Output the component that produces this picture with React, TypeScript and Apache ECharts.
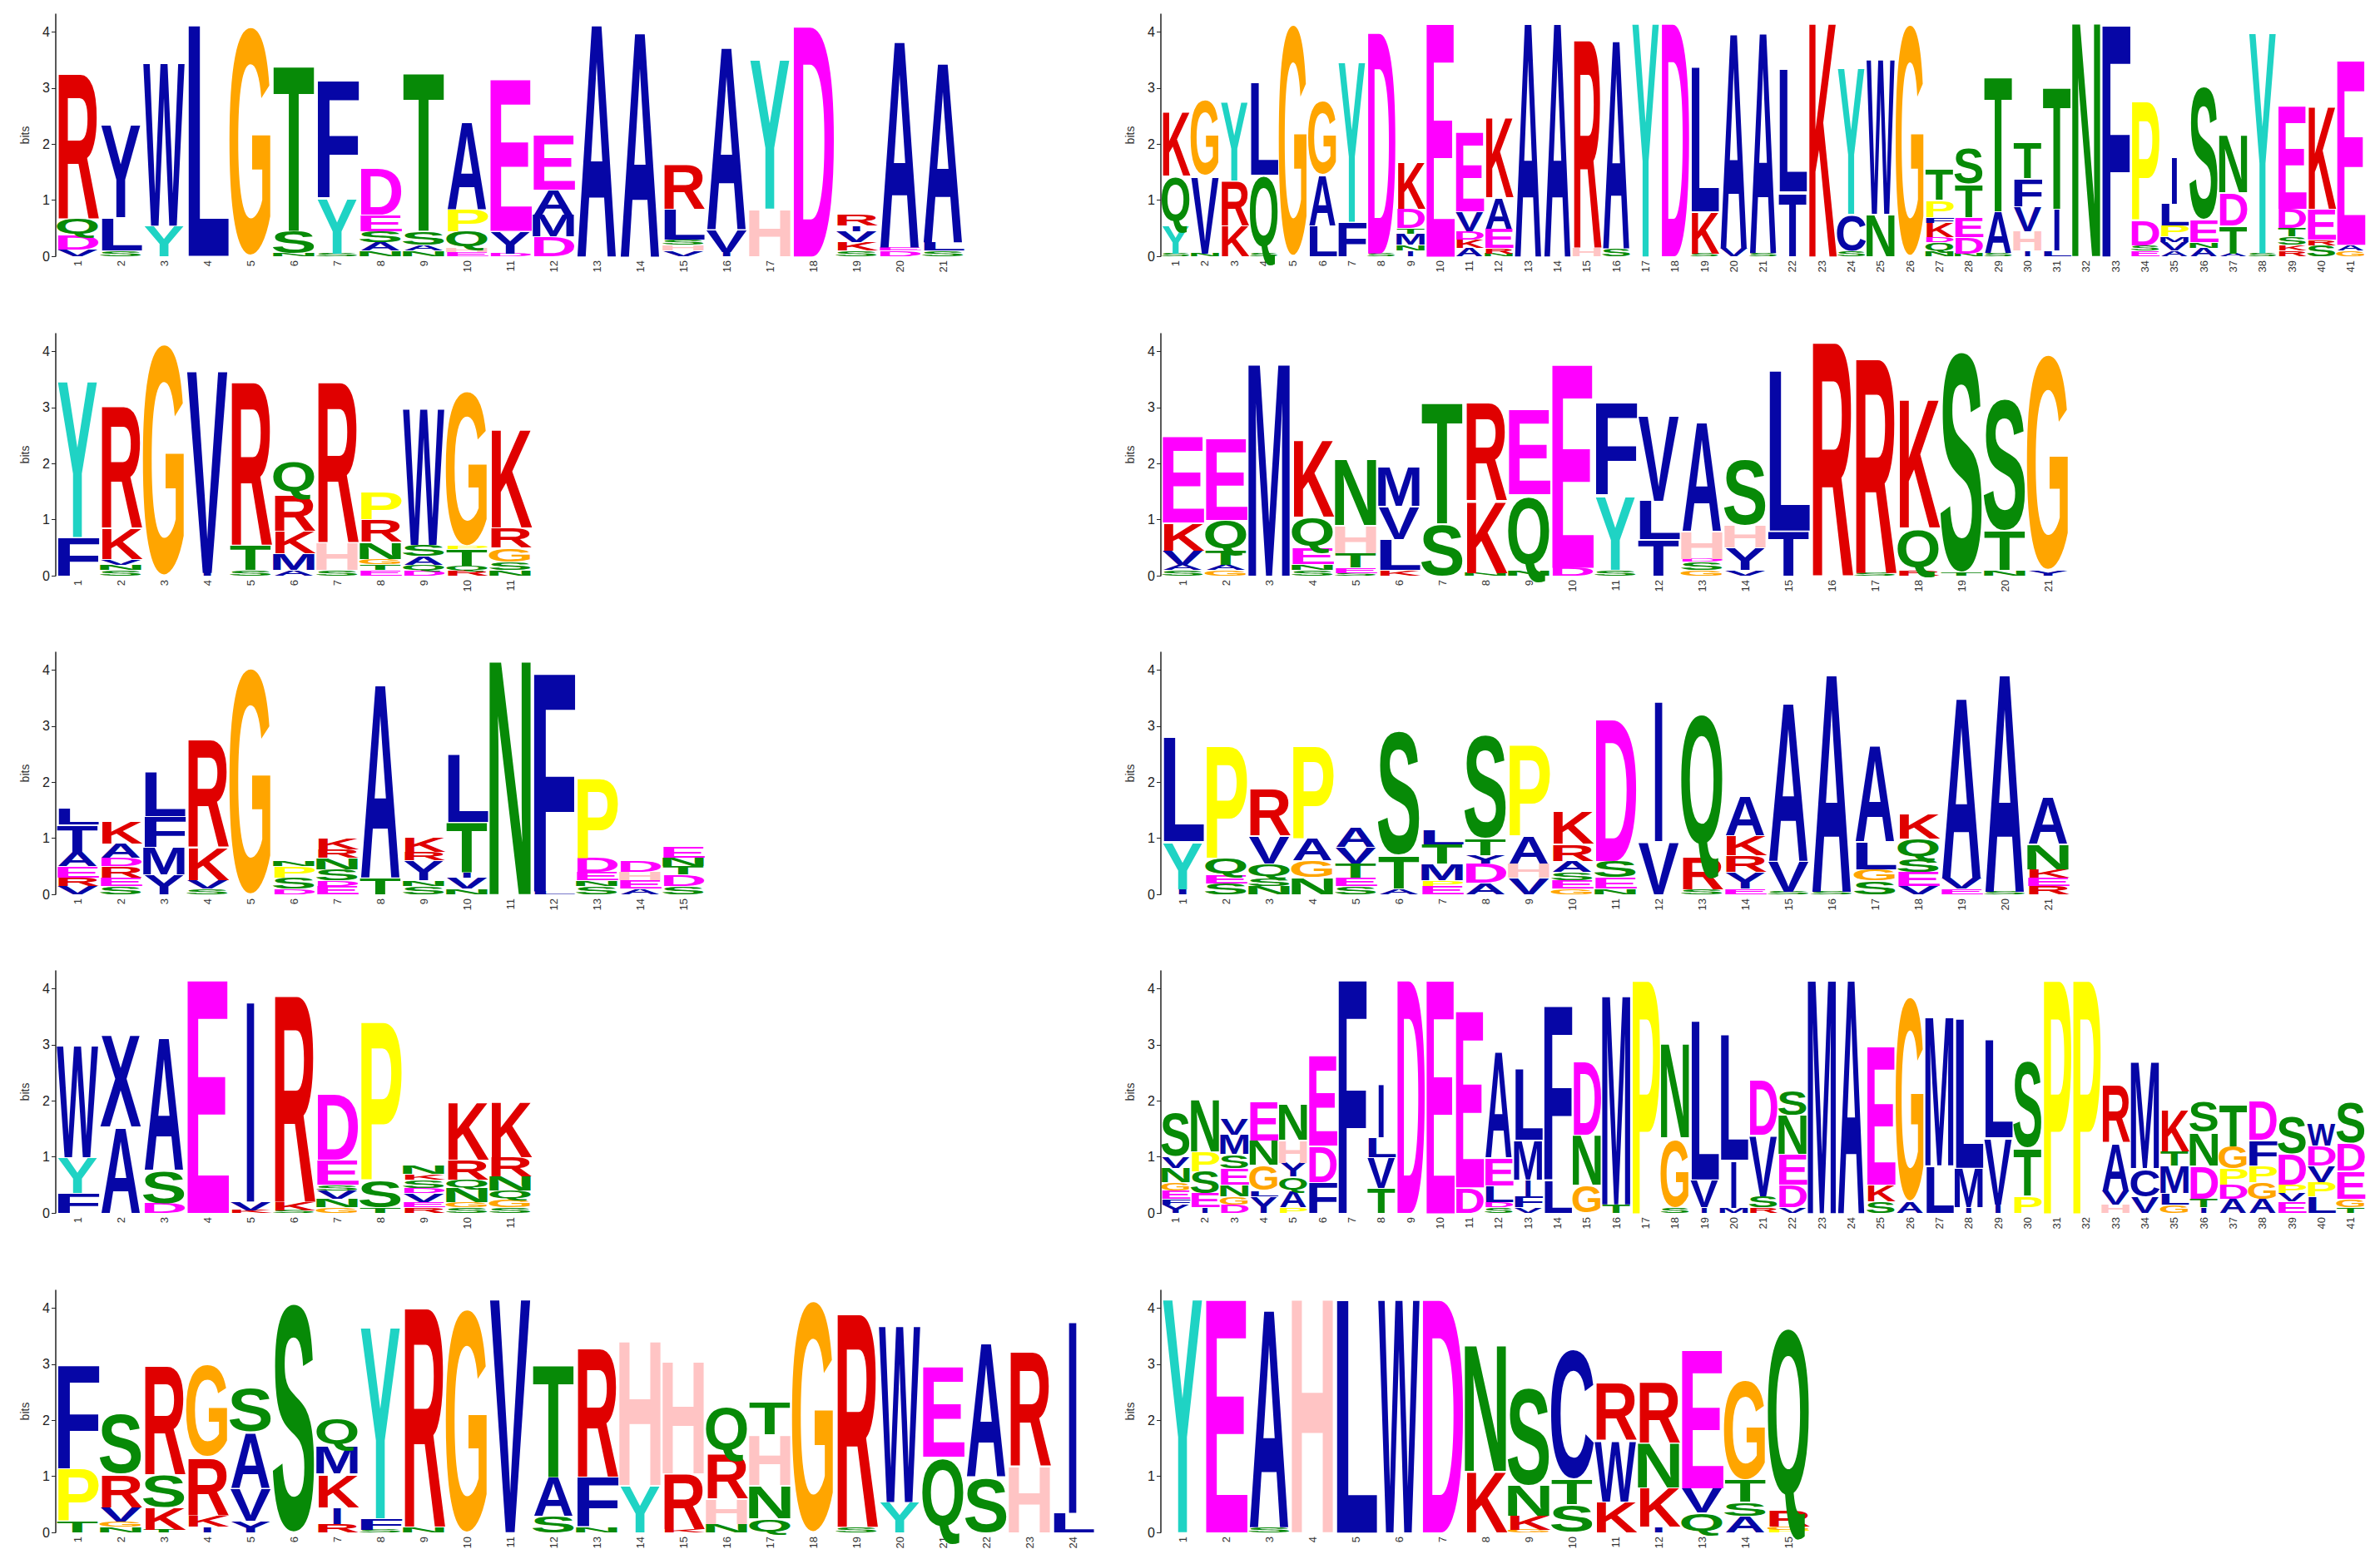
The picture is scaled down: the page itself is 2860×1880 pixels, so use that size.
import React, { useEffect, useRef } from "react";
import * as echarts from "echarts";

type Entry = [string, number, string?];
type Stack = Entry[];

// Each position: letters bottom -> top, [residue, bits, optional colour-class override]
const logo1: Stack[] = [
  [["V", 0.12], ["D", 0.25], ["Q", 0.3], ["R", 2.67]],
  [["S", 0.1], ["L", 0.6], ["Y", 1.7, "b"]],
  [["Y", 0.55], ["W", 3.0]],
  [["L", 4.26]],
  [["G", 4.25]],
  [["N", 0.06], ["S", 0.4], ["T", 3.03]],
  [["S", 0.05], ["Y", 1.0], ["F", 2.15]],
  [["N", 0.1], ["A", 0.15], ["S", 0.2], ["E", 0.3], ["D", 0.85]],
  [["N", 0.1], ["A", 0.1], ["S", 0.25], ["T", 2.9]],
  [["E", 0.08], ["H", 0.07], ["Q", 0.3], ["P", 0.4], ["A", 1.6]],
  [["D", 0.05], ["Y", 0.4, "b"], ["E", 2.8]],
  [["D", 0.35], ["M", 0.4], ["A", 0.45], ["E", 1.0]],
  [["A", 4.27]],
  [["A", 4.13]],
  [["V", 0.1], ["H", 0.1], ["S", 0.1], ["L", 0.55], ["R", 0.8]],
  [["I", 0.08], ["V", 0.4], ["A", 3.35]],
  [["H", 0.85], ["Y", 2.75]],
  [["D", 4.25]],
  [["S", 0.1], ["K", 0.15], ["V", 0.2], ["I", 0.1], ["R", 0.2]],
  [["D", 0.1], ["E", 0.05], ["A", 3.8]],
  [["S", 0.1], ["L", 0.15], ["A", 3.3]],
];

const logo2: Stack[] = [
  [["S", 0.05], ["Y", 0.52], ["Q", 0.87], ["K", 1.16]],
  [["N", 0.05], ["V", 1.4], ["G", 1.4]],
  [["K", 0.55], ["R", 0.8], ["Y", 1.45]],
  [["S", 0.05], ["Q", 1.4], ["L", 1.7]],
  [["G", 4.3]],
  [["L", 0.55], ["A", 0.9], ["G", 1.35]],
  [["F", 0.62], ["Y", 2.94]],
  [["S", 0.05], ["D", 4.08]],
  [["I", 0.1], ["N", 0.1], ["M", 0.2], ["T", 0.1], ["D", 0.35], ["K", 0.85]],
  [["E", 4.3]],
  [["A", 0.15], ["K", 0.15], ["D", 0.15], ["V", 0.35], ["E", 1.45]],
  [["N", 0.05], ["R", 0.1], ["E", 0.35], ["A", 0.55], ["K", 1.45]],
  [["A", 4.3]],
  [["A", 4.3]],
  [["H", 0.15], ["R", 3.83]],
  [["S", 0.15], ["A", 3.83]],
  [["Y", 4.3]],
  [["D", 4.3]],
  [["S", 0.05], ["K", 0.75], ["L", 2.66]],
  [["V", 0.15], ["A", 3.95]],
  [["S", 0.05], ["A", 4.06]],
  [["T", 1.15, "b"], ["L", 2.25]],
  [["K", 4.3]],
  [["S", 0.1], ["C", 0.65], ["Y", 2.68]],
  [["N", 0.75], ["W", 2.85]],
  [["G", 4.3]],
  [["N", 0.1], ["Q", 0.15], ["D", 0.1], ["K", 0.25], ["F", 0.1], ["P", 0.3], ["T", 0.56]],
  [["N", 0.05], ["D", 0.3], ["E", 0.35], ["T", 0.6], ["S", 0.66]],
  [["S", 0.05], ["A", 0.75], ["T", 2.47]],
  [["I", 0.1], ["H", 0.35], ["V", 0.45], ["F", 0.5], ["T", 0.65]],
  [["L", 0.1], ["I", 0.75], ["T", 2.22]],
  [["N", 4.3]],
  [["F", 4.27]],
  [["E", 0.1], ["S", 0.1], ["D", 0.45], ["P", 2.18]],
  [["A", 0.1], ["V", 0.15], ["M", 0.1], ["P", 0.2], ["L", 0.4], ["I", 0.85]],
  [["A", 0.15], ["N", 0.1], ["E", 0.4], ["S", 2.47]],
  [["A", 0.05], ["T", 0.5], ["D", 0.6], ["N", 1.05]],
  [["S", 0.05], ["Y", 4.07]],
  [["R", 0.1], ["K", 0.1], ["S", 0.15], ["T", 0.15], ["D", 0.35], ["E", 1.9]],
  [["S", 0.2], ["R", 0.1], ["E", 0.55], ["K", 1.88]],
  [["G", 0.1], ["A", 0.1], ["E", 3.4]],
];

const logo3: Stack[] = [
  [["F", 0.69], ["Y", 2.87]],
  [["S", 0.1], ["N", 0.1], ["V", 0.1], ["K", 0.55], ["R", 2.24]],
  [["G", 4.3]],
  [["I", 0.05], ["V", 3.73]],
  [["S", 0.1], ["T", 0.45], ["R", 3.0]],
  [["A", 0.1], ["M", 0.3], ["K", 0.4], ["R", 0.65], ["Q", 0.6]],
  [["S", 0.1], ["H", 0.5], ["R", 2.95]],
  [["E", 0.1], ["T", 0.1], ["G", 0.1], ["N", 0.3], ["R", 0.4], ["P", 0.5]],
  [["D", 0.1], ["Q", 0.1], ["A", 0.15], ["S", 0.2], ["W", 2.5]],
  [["R", 0.1], ["Q", 0.08], ["T", 0.3], ["P", 0.05], ["G", 2.87]],
  [["N", 0.1], ["S", 0.15], ["G", 0.25], ["R", 0.35], ["K", 1.8]],
];

const logo4: Stack[] = [
  [["S", 0.1], ["A", 0.1], ["V", 0.25], ["K", 0.5], ["E", 1.57]],
  [["G", 0.1], ["A", 0.1], ["T", 0.25], ["Q", 0.55], ["E", 1.5]],
  [["M", 3.9]],
  [["S", 0.1], ["N", 0.1], ["E", 0.3], ["Q", 0.55], ["K", 1.4]],
  [["S", 0.05], ["E", 0.1], ["T", 0.25], ["H", 0.5], ["N", 1.2]],
  [["K", 0.1], ["L", 0.55], ["V", 0.6], ["M", 0.7]],
  [["S", 0.95], ["T", 2.2]],
  [["N", 0.05], ["K", 1.3], ["R", 1.8]],
  [["N", 0.1], ["Q", 1.35], ["E", 1.55]],
  [["D", 0.15], ["E", 3.75]],
  [["S", 0.1], ["Y", 1.35], ["F", 1.68]],
  [["T", 0.65, "b"], ["L", 0.7], ["V", 1.55]],
  [["G", 0.1], ["S", 0.15], ["D", 0.05], ["H", 0.5], ["A", 2.0]],
  [["V", 0.1], ["Y", 0.4, "b"], ["H", 0.4], ["S", 1.2]],
  [["T", 0.8, "b"], ["L", 2.95]],
  [["R", 4.3]],
  [["S", 0.05], ["R", 3.95]],
  [["R", 0.1], ["Q", 0.75], ["K", 2.35]],
  [["T", 0.05], ["S", 4.1]],
  [["N", 0.1], ["T", 0.7], ["S", 2.45]],
  [["Y", 0.1, "b"], ["G", 4.0]],
];

const logo5: Stack[] = [
  [["V", 0.15], ["R", 0.15], ["E", 0.2], ["A", 0.25], ["T", 0.5, "b"], ["L", 0.3]],
  [["S", 0.15], ["E", 0.15], ["R", 0.2], ["D", 0.15], ["A", 0.25], ["K", 0.4]],
  [["Y", 0.35, "b"], ["M", 0.5], ["F", 0.55], ["L", 0.8]],
  [["S", 0.1], ["V", 0.15], ["K", 0.6], ["R", 1.97]],
  [["G", 4.2]],
  [["D", 0.1], ["S", 0.2], ["P", 0.2], ["N", 0.1]],
  [["E", 0.15], ["D", 0.1], ["S", 0.2], ["N", 0.2], ["R", 0.15], ["K", 0.2]],
  [["T", 0.3], ["A", 3.55]],
  [["S", 0.15], ["N", 0.1], ["Y", 0.35, "b"], ["R", 0.15], ["K", 0.25]],
  [["N", 0.1], ["V", 0.2], ["I", 0.1], ["T", 0.9], ["L", 1.25]],
  [["N", 4.3]],
  [["L", 0.05], ["F", 4.02]],
  [["S", 0.15], ["N", 0.1], ["E", 0.15], ["D", 0.25], ["P", 1.45]],
  [["A", 0.1], ["E", 0.15], ["H", 0.15], ["D", 0.2]],
  [["S", 0.15], ["D", 0.2], ["T", 0.15], ["N", 0.15], ["E", 0.2]],
];

const logo6: Stack[] = [
  [["I", 0.1], ["Y", 0.85], ["L", 1.92]],
  [["S", 0.2], ["E", 0.15], ["Q", 0.3], ["P", 2.05]],
  [["N", 0.15], ["S", 0.15], ["Q", 0.25], ["V", 0.5], ["R", 0.85]],
  [["N", 0.3], ["G", 0.3], ["A", 0.4], ["P", 1.7]],
  [["S", 0.15], ["E", 0.15], ["T", 0.25], ["V", 0.3], ["A", 0.35]],
  [["A", 0.1], ["T", 0.6], ["S", 2.3]],
  [["E", 0.15], ["P", 0.1], ["M", 0.3], ["T", 0.35], ["L", 0.25]],
  [["A", 0.2], ["D", 0.35], ["Y", 0.15, "b"], ["T", 0.3], ["S", 1.9]],
  [["V", 0.3], ["H", 0.25], ["A", 0.5], ["P", 1.65]],
  [["G", 0.1], ["E", 0.15], ["S", 0.15], ["A", 0.2], ["R", 0.3], ["K", 0.6]],
  [["N", 0.1], ["E", 0.2], ["S", 0.3], ["D", 2.6]],
  [["V", 0.95], ["I", 2.56]],
  [["S", 0.1], ["R", 0.6], ["Q", 2.6]],
  [["E", 0.1], ["Y", 0.3, "b"], ["R", 0.3], ["K", 0.35], ["A", 0.7]],
  [["S", 0.05], ["V", 0.55], ["A", 2.9]],
  [["S", 0.05], ["A", 4.0]],
  [["S", 0.25], ["G", 0.2], ["L", 0.5], ["A", 1.75]],
  [["V", 0.15], ["E", 0.25], ["S", 0.25], ["Q", 0.35], ["K", 0.45]],
  [["E", 0.1], ["V", 0.2], ["A", 3.3]],
  [["S", 0.05], ["A", 4.0]],
  [["R", 0.15], ["E", 0.15], ["K", 0.15], ["N", 0.45], ["A", 0.85]],
];

const logo7: Stack[] = [
  [["F", 0.35], ["Y", 0.65], ["W", 2.05]],
  [["A", 1.55], ["X", 1.68]],
  [["D", 0.17], ["S", 0.6], ["A", 2.43]],
  [["E", 4.3]],
  [["K", 0.05], ["V", 0.15], ["I", 3.68]],
  [["S", 0.05], ["K", 0.15], ["R", 3.8]],
  [["G", 0.1], ["N", 0.15], ["V", 0.15], ["S", 0.1], ["E", 0.45], ["D", 1.2]],
  [["T", 0.1], ["S", 0.5], ["P", 2.9]],
  [["R", 0.1], ["E", 0.1], ["V", 0.15], ["D", 0.1], ["S", 0.15], ["K", 0.1], ["N", 0.15]],
  [["S", 0.1], ["G", 0.1], ["N", 0.25], ["Q", 0.15], ["R", 0.35], ["K", 1.05]],
  [["S", 0.1], ["G", 0.15], ["Q", 0.15], ["N", 0.25], ["R", 0.35], ["K", 1.0]],
];

const logo8: Stack[] = [
  [["Y", 0.15, "b"], ["F", 0.1], ["E", 0.15], ["G", 0.15], ["N", 0.25], ["V", 0.2], ["S", 0.8]],
  [["I", 0.1], ["E", 0.25], ["S", 0.4], ["P", 0.35], ["N", 0.95]],
  [["D", 0.15], ["G", 0.15], ["N", 0.2], ["E", 0.3], ["S", 0.25], ["M", 0.35], ["V", 0.3]],
  [["Y", 0.3, "b"], ["L", 0.1], ["G", 0.45], ["N", 0.45], ["E", 0.7]],
  [["P", 0.1], ["A", 0.3], ["Q", 0.25], ["Y", 0.25, "b"], ["H", 0.4], ["N", 0.65]],
  [["F", 0.55], ["D", 0.65], ["E", 1.66]],
  [["F", 4.3]],
  [["T", 0.45], ["V", 0.55], ["L", 0.35], ["I", 0.97]],
  [["D", 4.3]],
  [["E", 4.3]],
  [["D", 0.45], ["E", 3.25]],
  [["S", 0.1], ["D", 0.1], ["L", 0.3], ["E", 0.5], ["A", 1.94]],
  [["V", 0.1], ["F", 0.2], ["I", 0.3], ["M", 0.7], ["L", 1.3]],
  [["L", 0.6], ["F", 3.2]],
  [["G", 0.5], ["N", 0.9], ["D", 1.34]],
  [["T", 0.15], ["M", 3.85]],
  [["P", 4.3]],
  [["S", 0.1], ["G", 1.25], ["N", 1.71]],
  [["I", 0.1], ["V", 0.5], ["L", 2.93]],
  [["M", 0.1], ["I", 0.85], ["L", 2.31]],
  [["R", 0.1], ["S", 0.2], ["V", 1.1], ["D", 1.0]],
  [["V", 0.1], ["D", 0.4], ["E", 0.55], ["N", 0.7], ["S", 0.45]],
  [["M", 4.3]],
  [["A", 4.3]],
  [["S", 0.2], ["K", 0.3], ["E", 2.55]],
  [["A", 0.2], ["G", 3.8]],
  [["L", 0.85], ["M", 2.73]],
  [["I", 0.1], ["M", 0.7], ["L", 2.75]],
  [["I", 0.15], ["V", 1.2], ["L", 1.8]],
  [["P", 0.3], ["T", 0.85], ["S", 1.6]],
  [["P", 4.3]],
  [["P", 4.3]],
  [["H", 0.15], ["V", 0.25], ["A", 0.85], ["R", 1.05]],
  [["V", 0.3], ["C", 0.5], ["M", 1.95]],
  [["G", 0.15], ["L", 0.2], ["M", 0.5], ["T", 0.25], ["K", 0.75]],
  [["I", 0.1], ["T", 0.15], ["D", 0.6], ["N", 0.6], ["S", 0.55]],
  [["A", 0.25], ["D", 0.25], ["P", 0.3], ["G", 0.4], ["T", 0.75]],
  [["A", 0.25], ["G", 0.3], ["P", 0.3], ["F", 0.45], ["D", 0.7]],
  [["E", 0.2], ["V", 0.15], ["P", 0.15], ["D", 0.55], ["S", 0.7]],
  [["L", 0.3], ["P", 0.25], ["V", 0.3], ["D", 0.35], ["W", 0.4]],
  [["T", 0.1], ["G", 0.15], ["E", 0.5], ["D", 0.5], ["S", 0.75]],
];

const logo9: Stack[] = [
  [["T", 0.2], ["P", 0.95], ["F", 1.9]],
  [["N", 0.1], ["G", 0.1], ["V", 0.25], ["R", 0.6], ["S", 1.1]],
  [["T", 0.05], ["K", 0.4], ["S", 0.6], ["R", 2.0]],
  [["I", 0.1], ["K", 0.2], ["R", 1.05], ["G", 1.7]],
  [["Y", 0.2, "b"], ["V", 0.6], ["A", 1.0], ["S", 0.8]],
  [["S", 4.25]],
  [["R", 0.15], ["I", 0.3], ["K", 0.6], ["M", 0.5], ["Q", 0.5]],
  [["S", 0.05], ["F", 0.2], ["Y", 3.52]],
  [["N", 0.1], ["R", 4.03]],
  [["G", 4.15]],
  [["V", 4.3]],
  [["S", 0.3], ["A", 0.7], ["T", 2.05]],
  [["N", 0.1], ["F", 0.9], ["R", 2.37]],
  [["Y", 0.85], ["H", 2.65]],
  [["K", 0.05], ["R", 1.0], ["H", 2.05]],
  [["N", 0.15], ["H", 0.45], ["R", 0.8], ["Q", 0.85]],
  [["Q", 0.25], ["N", 0.6], ["H", 0.9], ["T", 0.6]],
  [["G", 4.3]],
  [["S", 0.1], ["R", 3.93]],
  [["Y", 0.55], ["W", 3.25]],
  [["Q", 1.35], ["E", 1.65]],
  [["S", 1.0], ["A", 2.45]],
  [["H", 1.2], ["R", 2.1]],
  [["L", 0.35], ["I", 3.52]],
];

const logo10: Stack[] = [
  [["Y", 4.3]],
  [["E", 4.3]],
  [["S", 0.1], ["A", 4.0]],
  [["H", 4.3]],
  [["L", 4.3]],
  [["W", 4.3]],
  [["D", 4.3]],
  [["K", 1.1], ["N", 2.3]],
  [["G", 0.05], ["K", 0.25], ["N", 0.55], ["S", 1.8]],
  [["S", 0.5], ["T", 0.45], ["C", 2.4]],
  [["K", 0.55], ["W", 1.1], ["R", 1.05]],
  [["I", 0.1], ["K", 0.7], ["N", 0.8], ["R", 1.1]],
  [["Q", 0.35], ["V", 0.45], ["E", 2.55]],
  [["A", 0.3], ["S", 0.25], ["T", 0.4], ["G", 1.85]],
  [["P", 0.05], ["G", 0.05], ["R", 0.3], ["Q", 3.35]],
];

const yTicks = [0, 1, 2, 3, 4];
const Y_MAX = 4.32;

const LOGOS: Stack[][] = [logo1, logo2, logo3, logo4, logo5, logo6, logo7, logo8, logo9, logo10];

// layout (px) : column left edge, baseline y, column unit width
const ROW_BASE = [308, 692, 1075, 1458, 1842];
const COL_LEFT = [67, 1395];
const PLOT_H = 291;

const COLORS: Record<string, string> = {
  b: "#0606a6",
  r: "#e00000",
  m: "#ff00ff",
  o: "#ffa500",
  c: "#1fd3c4",
  g: "#078a07",
  p: "#ffc4c4",
  y: "#ffff00",
};
const LETTER_CLASS: Record<string, string> = {
  A: "b", C: "b", F: "b", I: "b", L: "b", M: "b", V: "b", W: "b", X: "b",
  R: "r", K: "r",
  D: "m", E: "m",
  G: "o",
  Y: "c",
  H: "p",
  S: "g", T: "g", N: "g", Q: "g",
  P: "y",
};
// ink width of each glyph in Liberation Sans Bold (em units)
const INK: Record<string, number> = {
  A: 0.72, C: 0.63, D: 0.63, E: 0.56, F: 0.51, G: 0.68, H: 0.59, I: 0.82, K: 0.66, L: 0.53,
  M: 0.7, N: 0.59, P: 0.58, Q: 0.7, R: 0.65, S: 0.6, T: 0.6, V: 0.67, W: 0.94, X: 0.66, Y: 0.67,
};
// glyph ink height (em) and vertical centre correction (fraction of box height)
const GLYPH_H: Record<string, number> = { C: 0.745, G: 0.745, S: 0.745, Q: 0.8 };
const GLYPH_DY: Record<string, number> = { Q: -0.02 };
const ALPHABET = "ACDEFGHIKLMNPQRSTVWXY";
const CLASS_KEYS = ["", "b"];
const FONT_PX = 100;
const FILL = 0.95;

function renderItem(_params: any, api: any) {
  const ci = api.value(0);
  const y0 = api.value(1);
  const y1 = api.value(2);
  const li = api.value(3);
  const ki = api.value(4);
  const letter = ALPHABET[li];
  const pb = api.coord([ci, y0]);
  const pt = api.coord([ci, y1]);
  const h = pb[1] - pt[1];
  if (!(h > 0.3)) return null;
  const bw = api.size([1, 0])[0];
  const sx = (bw * FILL) / ((INK[letter] || 0.65) * FONT_PX);
  const cap = GLYPH_H[letter] || 0.716;
  const sy = h / (cap * FONT_PX);
  const dy = GLYPH_DY[letter] !== undefined ? GLYPH_DY[letter] : 0.016;
  const cy = (pb[1] + pt[1]) / 2 + dy * h;
  const cls = CLASS_KEYS[ki] || LETTER_CLASS[letter] || "b";
  return {
    type: "text",
    x: pb[0],
    y: cy,
    scaleX: sx,
    scaleY: sy,
    silent: true,
    style: {
      text: letter,
      x: 0,
      y: 0,
      fill: COLORS[cls],
      font: `bold ${FONT_PX}px "Liberation Sans", Arial, sans-serif`,
      align: "center",
      verticalAlign: "middle",
      textAlign: "center",
      textVerticalAlign: "middle",
    },
  };
}

function buildOption() {
  const grid: any[] = [];
  const xAxis: any[] = [];
  const yAxis: any[] = [];
  const series: any[] = [];
  LOGOS.forEach((stacks, i) => {
    const row = Math.floor(i / 2);
    const col = i % 2;
    const n = stacks.length;
    const unit = n > 30 ? 35.3 : 52;
    grid.push({
      left: COL_LEFT[col],
      top: ROW_BASE[row] - PLOT_H,
      width: n * unit,
      height: PLOT_H,
    });
    xAxis.push({
      type: "category",
      gridIndex: i,
      data: stacks.map((_, k) => String(k + 1)),
      boundaryGap: true,
      axisLine: { show: false },
      axisTick: { show: false },
      axisLabel: {
        interval: 0,
        rotate: 90,
        fontSize: 13,
        color: "#333",
        margin: 5,
        fontFamily: "Liberation Sans, Arial, sans-serif",
      },
      splitLine: { show: false },
    });
    yAxis.push({
      type: "value",
      gridIndex: i,
      min: 0,
      max: Y_MAX,
      interval: 1,
      name: "bits",
      nameLocation: "middle",
      nameGap: 30,
      nameRotate: 90,
      nameTextStyle: { fontSize: 14, color: "#333", fontFamily: "Liberation Sans, Arial, sans-serif" },
      axisLine: { show: true, lineStyle: { color: "#222", width: 1.5 } },
      axisTick: { show: true, length: 5, customValues: yTicks, lineStyle: { color: "#222" } },
      axisLabel: {
        customValues: yTicks,
        fontSize: 16,
        color: "#222",
        margin: 7,
        fontFamily: "Liberation Sans, Arial, sans-serif",
      },
      splitLine: { show: false },
    });
    const data: number[][] = [];
    stacks.forEach((stack, pos) => {
      let acc = 0;
      stack.forEach((e) => {
        const [letter, bits, cls] = e;
        const ki = cls ? CLASS_KEYS.indexOf(cls) : 0;
        data.push([pos, acc, acc + bits, ALPHABET.indexOf(letter), ki < 0 ? 0 : ki]);
        acc += bits;
      });
    });
    series.push({
      type: "custom",
      xAxisIndex: i,
      yAxisIndex: i,
      encode: { x: 0, y: [1, 2] },
      data,
      renderItem,
      clip: false,
    });
  });
  return { animation: false, backgroundColor: "#ffffff", grid, xAxis, yAxis, series };
}

export default function App() {
  const ref = useRef<HTMLDivElement>(null);
  useEffect(() => {
    if (!ref.current) return;
    const chart = echarts.init(ref.current, undefined, { renderer: "svg" });
    chart.setOption(buildOption() as any);
    return () => chart.dispose();
  }, []);
  return (
    <div
      ref={ref}
      style={{ position: "absolute", left: 0, top: 0, width: 2860, height: 1880, background: "#fff" }}
    />
  );
}
